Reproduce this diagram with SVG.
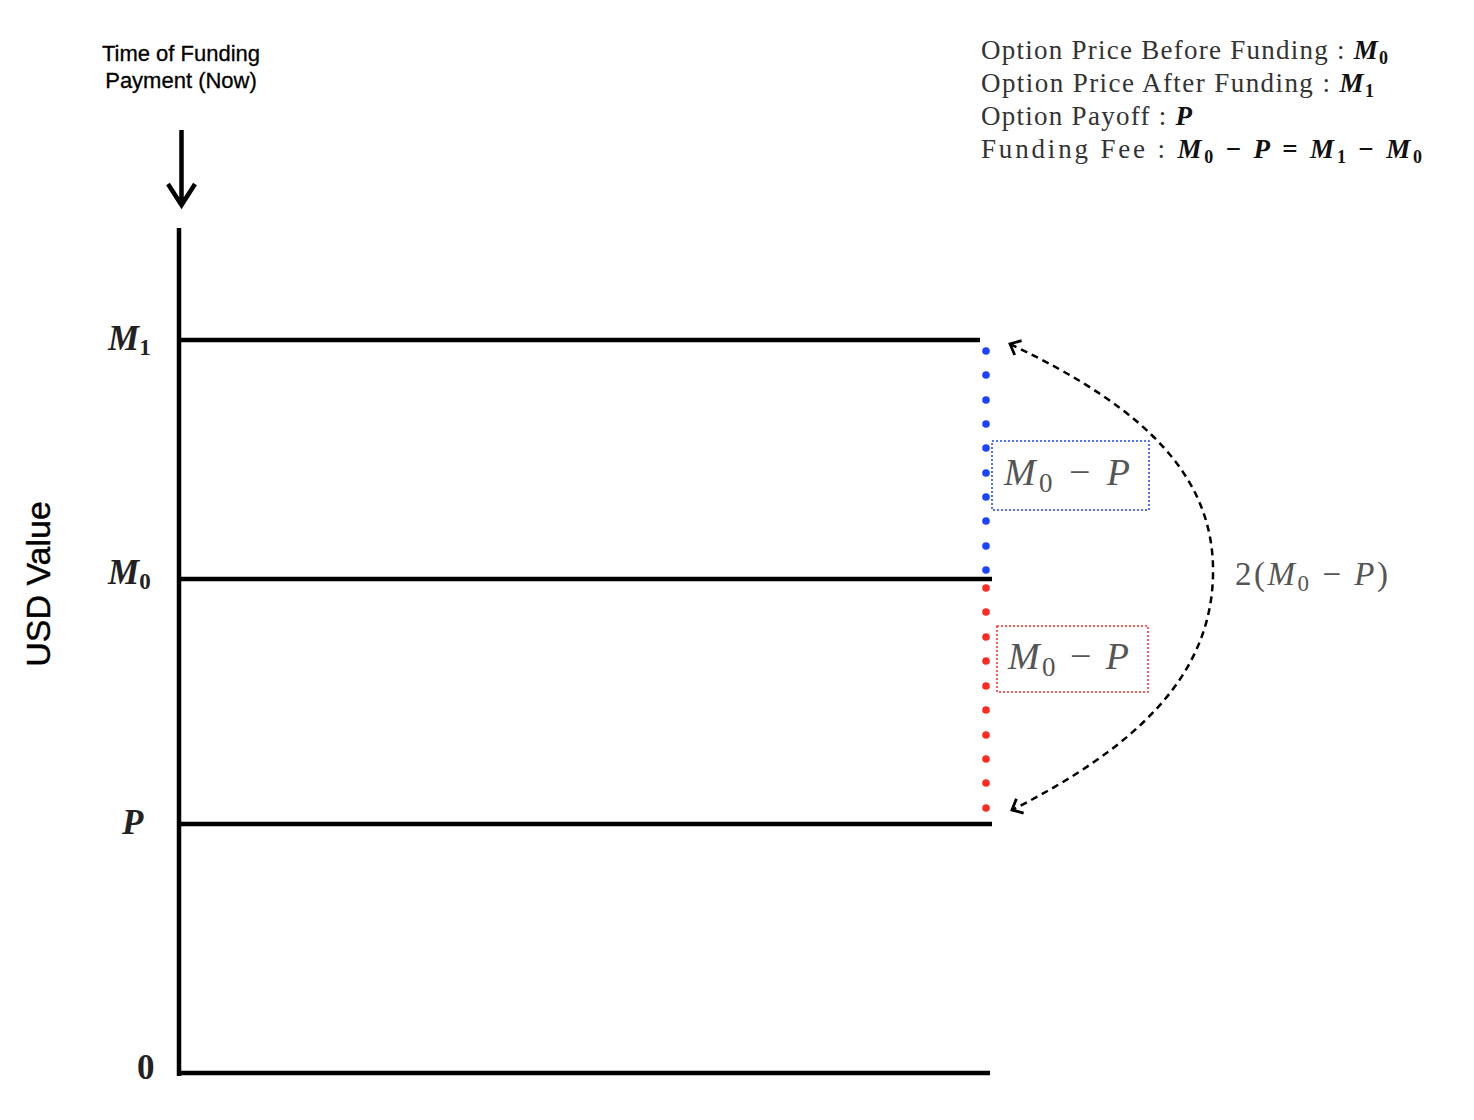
<svg xmlns="http://www.w3.org/2000/svg" width="1474" height="1120" viewBox="0 0 1474 1120">
<style>
.ax{stroke:#000;stroke-width:4.5;fill:none}
.sans{font-family:"Liberation Sans",Arial,sans-serif;fill:#000}
.leg{font-family:"Liberation Serif","Times New Roman",serif;font-size:27px;fill:#333}
.mb{font-weight:bold;font-style:italic;fill:#111}
.mi{font-family:"Liberation Serif","Times New Roman",serif;font-style:italic;fill:#555}
.lab{font-family:"Liberation Serif","Times New Roman",serif;font-size:35px;font-weight:bold;font-style:italic;fill:#222}
.up{font-style:normal}
.bd{fill:#1a44ff}
.rd{fill:#ff2a22}
</style>
<defs>
<marker id="ch" markerWidth="20" markerHeight="20" refX="10" refY="10" orient="auto-start-reverse" markerUnits="userSpaceOnUse">
<path d="M1,2 L10,10 L1,18" fill="none" stroke="#000" stroke-width="2.8"/>
</marker>
</defs>

<g id="time-label">
<text class="sans" x="181" y="61" font-size="22" text-anchor="middle" stroke="#000" stroke-width="0.3">Time of Funding</text>
<text class="sans" x="181" y="88" font-size="22" text-anchor="middle" stroke="#000" stroke-width="0.3">Payment (Now)</text>
<path d="M181.5,130 V205 M168,184 L181.5,205 L195,184" fill="none" stroke="#000" stroke-width="4.5"/>
</g>

<g id="y-label">
<text class="sans" x="50" y="584" font-size="34" text-anchor="middle" transform="rotate(-90 50 584)" stroke="#000" stroke-width="0.4">USD Value</text>
</g>

<g id="legend">
<text class="leg" x="981" y="59" textLength="407" lengthAdjust="spacing">Option Price Before Funding : <tspan class="mb">M</tspan><tspan class="mb up" font-size="18" dy="5">0</tspan></text>
<text class="leg" x="981" y="92" textLength="393" lengthAdjust="spacing">Option Price After Funding : <tspan class="mb">M</tspan><tspan class="mb up" font-size="18" dy="5">1</tspan></text>
<text class="leg" x="981" y="125" textLength="211" lengthAdjust="spacing">Option Payoff : <tspan class="mb">P</tspan></text>
<text class="leg" x="981" y="158" textLength="441" lengthAdjust="spacing">Funding Fee : <tspan class="mb">M</tspan><tspan class="mb up" font-size="18" dy="5">0</tspan><tspan dy="-5" class="mb up"> − </tspan><tspan class="mb">P</tspan><tspan class="mb up"> = </tspan><tspan class="mb">M</tspan><tspan class="mb up" font-size="18" dy="5">1</tspan><tspan dy="-5" class="mb up"> − </tspan><tspan class="mb">M</tspan><tspan class="mb up" font-size="18" dy="5">0</tspan></text>
</g>

<g id="axis">
<line class="ax" x1="179" y1="228" x2="179" y2="1076" stroke-width="5.5"/>
</g>

<g id="level-M1">
<line class="ax" x1="179" y1="340" x2="980" y2="340"/>
<text class="lab" x="108" y="350">M<tspan class="up" font-size="23" dy="5">1</tspan></text>
</g>
<g id="level-M0">
<line class="ax" x1="179" y1="579" x2="992" y2="579"/>
<text class="lab" x="108" y="584">M<tspan class="up" font-size="23" dy="5">0</tspan></text>
</g>
<g id="level-P">
<line class="ax" x1="179" y1="824" x2="992" y2="824"/>
<text class="lab" x="122" y="834">P</text>
</g>
<g id="level-0">
<line class="ax" x1="179" y1="1073" x2="990" y2="1073"/>
<text class="lab up" x="137" y="1079">0</text>
</g>

<g id="blue-dots" class="bd">
<circle cx="986" cy="351" r="3.8"/><circle cx="986" cy="375" r="3.8"/><circle cx="986" cy="400" r="3.8"/><circle cx="986" cy="424" r="3.8"/><circle cx="986" cy="448" r="3.8"/><circle cx="986" cy="473" r="3.8"/><circle cx="986" cy="497" r="3.8"/><circle cx="986" cy="521" r="3.8"/><circle cx="986" cy="546" r="3.8"/><circle cx="986" cy="570" r="3.8"/>
</g>
<g id="red-dots" class="rd">
<circle cx="986" cy="588" r="3.8"/><circle cx="986" cy="612" r="3.8"/><circle cx="986" cy="637" r="3.8"/><circle cx="986" cy="661" r="3.8"/><circle cx="986" cy="686" r="3.8"/><circle cx="986" cy="710" r="3.8"/><circle cx="986" cy="735" r="3.8"/><circle cx="986" cy="759" r="3.8"/><circle cx="986" cy="783" r="3.8"/><circle cx="986" cy="808" r="3.8"/>
</g>

<g id="blue-box">
<rect x="992" y="441" width="157" height="69" fill="none" stroke="#1a44ff" stroke-width="1.5" stroke-dasharray="2 2"/>
<text class="mi" x="1004" y="485" font-size="38" textLength="126" lengthAdjust="spacing">M<tspan class="up" font-size="27" dy="7">0</tspan><tspan class="up" dy="-7"> − </tspan>P</text>
</g>
<g id="red-box">
<rect x="997" y="626" width="151" height="66" fill="none" stroke="#ff2a22" stroke-width="1.5" stroke-dasharray="2 2"/>
<text class="mi" x="1008" y="669" font-size="38" textLength="121" lengthAdjust="spacing">M<tspan class="up" font-size="27" dy="7">0</tspan><tspan class="up" dy="-7"> − </tspan>P</text>
</g>

<g id="connectors">
<path d="M1010,344 C1150,410 1215,480 1213,575 C1211,680 1130,750 1012,810" fill="none" stroke="#000" stroke-width="2.5" stroke-dasharray="7 5" marker-start="url(#ch)" marker-end="url(#ch)"/>
</g>

<g id="double-label">
<text class="mi" x="1235" y="585" font-size="33" textLength="153" lengthAdjust="spacing"><tspan class="up">2(</tspan>M<tspan class="up" font-size="23" dy="6">0</tspan><tspan class="up" dy="-6"> − </tspan>P<tspan class="up">)</tspan></text>
</g>
</svg>
